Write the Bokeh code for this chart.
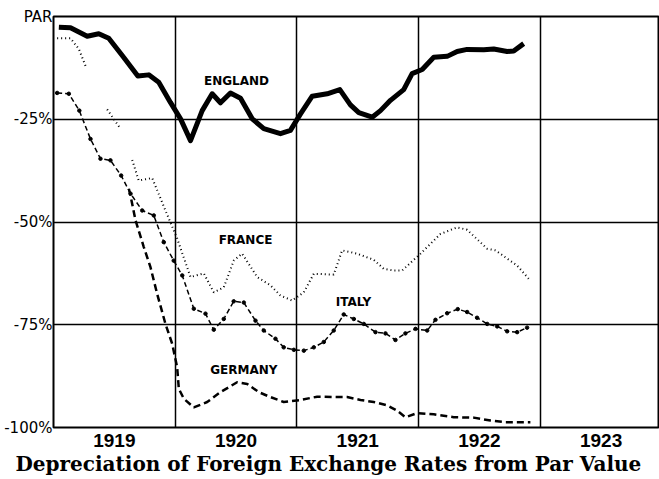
from bokeh.plotting import figure
from bokeh.models import FixedTicker, Title, Range1d
from bokeh.core.properties import value
from bokeh.embed import file_html
from bokeh.resources import INLINE

nan = float("nan")

england_x = [1919.044, 1919.14, 1919.277, 1919.372, 1919.454, 1919.565, 1919.693, 1919.783,
             1919.865, 1919.961, 1920.044, 1920.126, 1920.222, 1920.304, 1920.372, 1920.454,
             1920.537, 1920.633, 1920.728, 1920.865, 1920.947, 1921.03, 1921.126, 1921.249,
             1921.353, 1921.44, 1921.509, 1921.619, 1921.687, 1921.769, 1921.878, 1921.947,
             1922.03, 1922.125, 1922.235, 1922.317, 1922.399, 1922.536, 1922.618, 1922.728,
             1922.782, 1922.864]
england_y = [-2.6, -2.75, -4.8, -4.2, -5.3, -9.5, -14.5, -14.2,
             -16.0, -20.9, -24.9, -30.2, -22.9, -18.8, -21.0, -18.6,
             -19.9, -24.9, -27.3, -28.5, -27.7, -23.7, -19.4, -18.8,
             -17.8, -21.5, -23.4, -24.5, -22.9, -20.4, -17.8, -13.9,
             -12.9, -9.9, -9.7, -8.5, -8.0, -8.1, -7.9, -8.5,
             -8.4, -6.6]

france_x = [1919.03, 1919.14, 1919.208, 1919.271, nan, 1919.441, 1919.55, nan, 1919.647, 1919.70,
            1919.811, 1919.92, 1920.016, 1920.126, 1920.235, 1920.317, 1920.399, 1920.481,
            1920.55, 1920.674, 1920.783, 1920.865, 1920.961, 1921.057, 1921.139, 1921.303,
            1921.372, 1921.495, 1921.632, 1921.714, 1921.796, 1921.865, 1922.016, 1922.18,
            1922.317, 1922.399, 1922.564, 1922.632, 1922.81, 1922.905]
france_y = [-5.3, -5.3, -7.9, -12.6, nan, -22.6, -27.3, nan, -34.9, -39.9,
            -39.3, -47.2, -54.0, -63.4, -62.5, -67.1, -65.9, -59.4,
            -57.7, -63.4, -65.4, -67.9, -69.1, -67.1, -62.6, -62.8,
            -56.9, -57.7, -59.2, -61.4, -61.8, -61.8, -57.7, -52.9,
            -51.3, -51.9, -56.5, -56.9, -60.6, -63.8]

italy_x = [1919.03, 1919.126, 1919.212, 1919.304, 1919.386, 1919.468, 1919.556, 1919.633,
           1919.729, 1919.824, 1919.906, 1919.988, 1920.058, 1920.153, 1920.249, 1920.317,
           1920.399, 1920.481, 1920.564, 1920.66, 1920.728, 1920.824, 1920.892, 1920.975,
           1921.057, 1921.139, 1921.221, 1921.303, 1921.385, 1921.468, 1921.55, 1921.646,
           1921.728, 1921.81, 1921.892, 1921.975, 1922.071, 1922.139, 1922.235, 1922.322,
           1922.399, 1922.481, 1922.564, 1922.646, 1922.728, 1922.81, 1922.892]
italy_y = [-18.6, -18.8, -22.9, -29.8, -34.6, -35.0, -38.7, -43.1,
           -47.2, -48.4, -54.9, -59.4, -63.0, -71.1, -72.3, -76.2,
           -73.6, -69.3, -69.6, -74.0, -76.4, -78.4, -80.5, -81.1,
           -81.3, -80.5, -79.2, -76.4, -72.5, -73.6, -74.8, -76.8,
           -77.1, -78.7, -77.1, -76.0, -76.4, -73.8, -72.2, -71.2,
           -71.9, -73.3, -74.8, -75.4, -76.6, -76.8, -75.7]

germany_x = [1919.619, 1919.633, 1919.674, 1919.742, 1919.797, 1919.852, 1919.92, 1919.975,
             1920.016, 1920.03, 1920.071, 1920.153, 1920.263, 1920.372, 1920.509, 1920.592,
             1920.687, 1920.783, 1920.892, 1921.03, 1921.167, 1921.303, 1921.413, 1921.523,
             1921.632, 1921.742, 1921.824, 1921.892, 1921.988, 1922.125, 1922.289, 1922.454,
             1922.591, 1922.714, 1922.919]
germany_y = [-41.9, -43.6, -49.6, -56.1, -61.0, -67.5, -74.8, -79.6,
             -85.3, -90.6, -93.0, -95.1, -93.8, -91.4, -89.0, -89.4,
             -91.4, -92.6, -93.8, -93.3, -92.5, -92.6, -92.6, -93.3,
             -93.8, -94.6, -95.9, -97.5, -96.5, -96.8, -97.5, -97.6,
             -98.3, -98.7, -98.7]

year_ticks = [1919.5, 1920.5, 1921.5, 1922.5, 1923.5]
year_labels = ["1919", "1920", "1921", "1922", "1923"]
year_bounds = [1920, 1921, 1922, 1923]
pct_ticks = [0, -25, -50, -75, -100]
pct_labels = ["PAR", "-25%", "-50%", "-75%", "-100%"]

series_names = ["ENGLAND", "FRANCE", "ITALY", "GERMANY"]
name_x = [1920.504, 1920.578, 1921.465, 1920.564]
name_y = [-15.6, -54.5, -69.5, -86.0]

p = figure(width=659, height=479, output_backend="svg", toolbar_location=None,
           x_range=Range1d(1919.0, 1923.98), y_range=Range1d(-100, 0),
           min_border_left=53, min_border_top=16, min_border_right=0, min_border_bottom=52)
p.background_fill_color = "white"
p.border_fill_color = "white"
p.outline_line_color = "black"
p.outline_line_width = 2

p.xaxis.ticker = FixedTicker(ticks=year_ticks)
p.xaxis.major_label_overrides = {t: l for t, l in zip(year_ticks, year_labels)}
p.yaxis.ticker = FixedTicker(ticks=pct_ticks)
p.yaxis.major_label_overrides = {t: l for t, l in zip(pct_ticks, pct_labels)}
for ax in (p.xaxis[0], p.yaxis[0]):
    ax.axis_line_color = None
    ax.major_tick_line_color = None
    ax.minor_tick_line_color = None
    ax.major_tick_out = 0
    ax.major_tick_in = 0
    ax.major_label_text_color = "black"
p.xaxis.major_label_text_font = "Liberation Sans"
p.xaxis.major_label_text_font_style = "bold"
p.xaxis.major_label_text_font_size = "19px"
p.xaxis.major_label_standoff = 6
p.yaxis.major_label_text_font = "DejaVu Sans"
p.yaxis.major_label_text_font_size = "15px"
p.yaxis.major_label_standoff = 1

p.xgrid.ticker = FixedTicker(ticks=year_bounds)
p.xgrid.grid_line_color = "black"
p.xgrid.grid_line_width = 1.5
p.ygrid.ticker = FixedTicker(ticks=pct_ticks)
p.ygrid.grid_line_color = "black"
p.ygrid.grid_line_width = 1.5

p.add_layout(Title(text="Depreciation of Foreign Exchange Rates from Par Value",
                   text_font="DejaVu Serif", text_font_size="20px", text_font_style="bold",
                   align="left", text_color="black", standoff=0, offset=-38), "below")

p.line(germany_x, germany_y, line_color="black", line_width=2.5, line_dash="7 4")
p.line(italy_x, italy_y, line_color="black", line_width=1.5, line_dash="5 3")
p.scatter(italy_x, italy_y, size=3.5, color="black")
p.line(france_x, france_y, line_color="black", line_width=2, line_dash="1 3")
p.line(england_x, england_y, line_color="black", line_width=5, line_join="round")

p.text(name_x, name_y, text=series_names, text_font=value("DejaVu Sans"),
       text_font_size="12px", text_font_style="bold", text_align="center",
       text_baseline="middle", text_color="black")

open("out.html", "w").write(file_html(p, INLINE))
